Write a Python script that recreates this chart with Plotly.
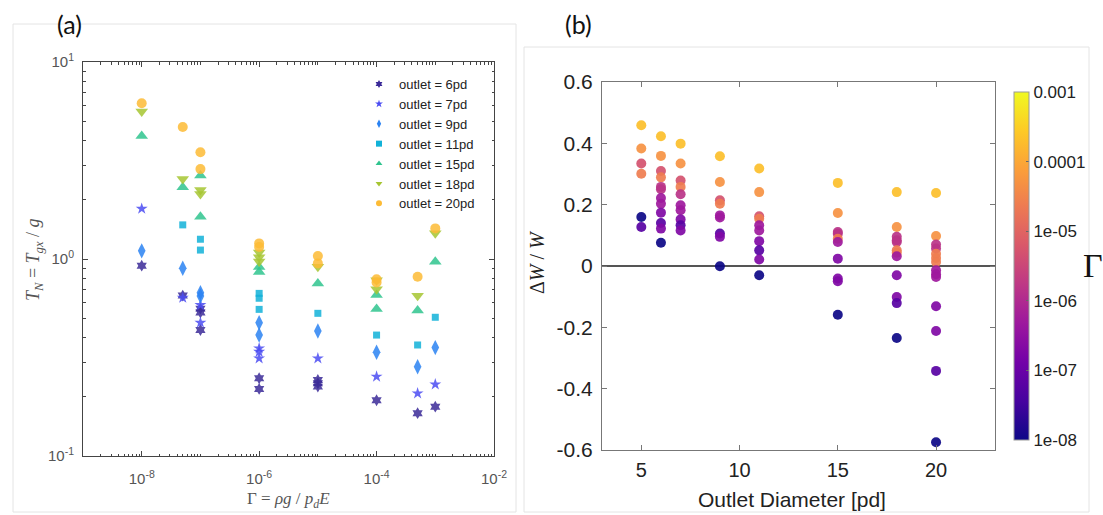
import numpy as np
import plotly.graph_objects as go

W, H = 1103, 515

# ---------------- Panel (a) data : Gamma vs T_N for each outlet size ----------------
series_names = ["outlet = 6pd", "outlet = 7pd", "outlet = 9pd", "outlet = 11pd",
                "outlet = 15pd", "outlet = 18pd", "outlet = 20pd"]
series_colors = ["#3b2a98", "#4b4cf2", "#2a82f2", "#12b2d8", "#2fc48e", "#a6c531", "#fdbb35"]
series_symbols = ["hexagram", "star", "diamond-tall", "square", "triangle-up", "triangle-down", "circle"]
series_sizes = [9, 9, 11, 7, 11, 11, 10]

g6 = [1e-8, 5e-8, 1e-7, 1e-7, 1e-7, 1e-6, 1e-6, 1e-5, 1e-5, 1e-5, 1e-4, 5e-4, 1e-3]
t6 = [0.925, 0.652, 0.560, 0.535, 0.436, 0.248, 0.219, 0.243, 0.234, 0.225, 0.192, 0.165, 0.178]
g7 = [1e-8, 5e-8, 1e-7, 1e-7, 1e-6, 1e-6, 1e-6, 1e-5, 1e-4, 5e-4, 1e-3]
t7 = [1.80, 0.636, 0.584, 0.475, 0.352, 0.338, 0.313, 0.313, 0.253, 0.208, 0.231]
g9 = [1e-8, 5e-8, 1e-7, 1e-7, 1e-6, 1e-6, 1e-5, 1e-4, 5e-4, 1e-3]
t9 = [1.10, 0.897, 0.675, 0.649, 0.475, 0.411, 0.431, 0.336, 0.284, 0.355]
g11 = [5e-8, 1e-7, 1e-7, 1e-6, 1e-6, 1e-6, 1e-5, 1e-4, 5e-4, 1e-3]
t11 = [1.49, 1.26, 1.11, 0.669, 0.632, 0.555, 0.530, 0.411, 0.366, 0.506]
g15 = [1e-8, 5e-8, 1e-7, 1e-7, 1e-6, 1e-6, 1e-5, 1e-4, 1e-4, 5e-4, 1e-3]
t15 = [4.21, 2.31, 2.65, 1.64, 0.91, 0.86, 0.752, 0.656, 0.557, 0.547, 0.969]
g18 = [1e-8, 5e-8, 1e-7, 1e-7, 1e-6, 1e-6, 1e-6, 1e-5, 1e-4, 1e-4, 5e-4, 1e-3]
t18 = [5.6, 2.55, 2.24, 2.14, 1.08, 1.02, 0.97, 0.914, 0.78, 0.702, 0.651, 1.35]
g20 = [1e-8, 5e-8, 1e-7, 1e-7, 1e-6, 1e-6, 1e-5, 1e-5, 1e-4, 1e-4, 5e-4, 1e-3]
t20 = [6.17, 4.68, 3.48, 2.86, 1.20, 1.15, 1.036, 0.95, 0.79, 0.76, 0.813, 1.43]

gammas_a = [g6, g7, g9, g11, g15, g18, g20]
tn_a = [t6, t7, t9, t11, t15, t18, t20]

# ---------------- Panel (b) data : outlet diameter vs dW/W, colored by Gamma ----------------
dia_b = ([5] * 6 + [6] * 12 + [7] * 10 + [9] * 9 + [11] * 10 +
         [15] * 10 + [18] * 12 + [20] * 14)
dw_b = [0.459, 0.383, 0.334, 0.301, 0.160, 0.127,
        0.423, 0.359, 0.310, 0.289, 0.258, 0.250, 0.222, 0.203, 0.174, 0.140, 0.122, 0.076,
        0.399, 0.334, 0.279, 0.258, 0.234, 0.198, 0.182, 0.152, 0.133, 0.116,
        0.358, 0.274, 0.214, 0.203, 0.165, 0.158, 0.106, 0.095, -0.001,
        0.318, 0.241, 0.162, 0.154, 0.133, 0.116, 0.081, 0.051, 0.021, -0.030,
        0.271, 0.173, 0.111, 0.105, 0.089, 0.078, 0.024, -0.041, -0.050, -0.159,
        0.241, 0.127, 0.095, 0.084, 0.078, 0.051, 0.043, 0.032, -0.030, -0.101, -0.121, -0.235,
        0.238, 0.098, 0.070, 0.057, 0.040, 0.026, 0.013, -0.014, -0.027, -0.036, -0.131, -0.212, -0.342, -0.575]
gam_b = [2e-4, 5e-5, 5e-6, 2.5e-5, 1e-8, 6e-8,
         2e-4, 5e-5, 5e-6, 2.5e-5, 1.5e-6, 1.5e-6, 5e-7, 5e-7, 2e-7, 6e-8, 2e-7, 1e-8,
         2e-4, 5e-5, 5e-6, 2.5e-5, 1.5e-6, 5e-7, 5e-7, 2e-7, 6e-8, 2e-7,
         2e-4, 5e-5, 5e-6, 2.5e-5, 5e-7, 5e-7, 6e-8, 2e-7, 1e-8,
         2e-4, 5e-5, 5e-6, 2.5e-5, 5e-7, 5e-7, 2e-7, 6e-8, 2e-7, 1e-8,
         2e-4, 5e-5, 1.5e-6, 1.5e-6, 2.5e-5, 5e-7, 2e-7, 2e-7, 2e-7, 1e-8,
         2e-4, 5e-5, 1.5e-6, 1.5e-6, 1.5e-6, 2.5e-5, 2.5e-5, 5e-7, 2e-7, 2e-7, 6e-8, 1e-8,
         2e-4, 5e-5, 1.5e-6, 1.5e-6, 2.5e-5, 2.5e-5, 2.5e-5, 5e-7, 5e-7, 5e-7, 2e-7, 2e-7, 6e-8, 1e-8]

cbar_vals = [-8, -7, -6, -5, -4, -3]
cbar_text = ["1e-08", "1e-07", "1e-06", "1e-05", "0.0001", "0.001"]

fig = go.Figure()

# panel (a) traces
for name, col, sym, sz, gx, ty in zip(series_names, series_colors, series_symbols,
                                       series_sizes, gammas_a, tn_a):
    fig.add_trace(go.Scatter(x=gx, y=ty, mode="markers", xaxis="x", yaxis="y",
                             marker=dict(color=col, symbol=sym, size=sz, opacity=0.85,
                                         line=dict(width=0)),
                             showlegend=False, hoverinfo="x+y", name=name))
# legend entries with small markers
for name, col, sym in zip(series_names, series_colors, series_symbols):
    fig.add_trace(go.Scatter(x=[None], y=[None], mode="markers", xaxis="x", yaxis="y",
                             marker=dict(color=col, symbol=sym, size=6, line=dict(width=0)),
                             name=name, showlegend=True))

# panel (b) trace
fig.add_trace(go.Scatter(
    x=dia_b, y=dw_b, mode="markers", xaxis="x2", yaxis="y2", showlegend=False,
    marker=dict(size=10, color=np.log10(gam_b), colorscale="Plasma", cmin=-8, cmax=-3,
                opacity=0.92, line=dict(width=0),
                colorbar=dict(x=1004 / W, xanchor="left", thickness=15,
                              len=(450 - 82) / H, lenmode="fraction",
                              y=1 - 266 / H, yanchor="middle",
                              tickvals=cbar_vals, ticktext=cbar_text,
                              ticks="inside", ticklen=3, tickcolor="#666",
                              outlinecolor="#999", outlinewidth=1,
                              tickfont=dict(family="Liberation Sans", size=17, color="#222"))),
))

major_x = [10.0 ** d for d in range(-8, -1, 2)]
major_x_text = ["10<sup>%d</sup>" % d for d in range(-8, -1, 2)]
minor_x = [m * 10.0 ** d for d in range(-9, -2) for m in range(1, 10)
           if not (m == 1 and d % 2 == 0)]
minor_y = [m * 10.0 ** d for d in range(-1, 1) for m in range(2, 10)]

ax_font = dict(family="Liberation Sans", size=15, color="#555")

fig.update_layout(
    width=W, height=H, margin=dict(l=0, r=0, t=0, b=0, autoexpand=False),
    paper_bgcolor="white", plot_bgcolor="white",
    font=dict(family="Liberation Sans"),
    xaxis=dict(domain=[83 / W, 494 / W], type="log", range=[-9, -2], automargin=False,
               tickmode="array", tickvals=major_x, ticktext=major_x_text,
               ticks="inside", ticklen=5, tickcolor="#444", showline=True, linecolor="#444",
               linewidth=1, mirror="ticks", showgrid=False, zeroline=False,
               tickfont=ax_font, ticklabelstandoff=9,
               minor=dict(tickmode="array", tickvals=minor_x, ticks="inside", ticklen=2.5,
                          tickcolor="#444", showgrid=False),
               anchor="y"),
    yaxis=dict(domain=[1 - 456 / H, 1 - 62 / H], type="log", range=[-1, 1], automargin=False,
               tickmode="array", tickvals=[0.1, 1, 10],
               ticktext=["10<sup>-1</sup>", "10<sup>0</sup>", "10<sup>1</sup>"],
               ticks="inside", ticklen=5, tickcolor="#444", showline=True, linecolor="#444",
               linewidth=1, mirror="ticks", showgrid=False, zeroline=False,
               tickfont=ax_font, ticklabelstandoff=5,
               minor=dict(tickmode="array", tickvals=minor_y, ticks="inside", ticklen=2.5,
                          tickcolor="#444", showgrid=False),
               anchor="x"),
    xaxis2=dict(domain=[602 / W, 995 / W], range=[3, 23], tickmode="array", automargin=False,
                tickvals=[5, 10, 15, 20], ticktext=["5", "10", "15", "20"],
                ticks="inside", ticklen=5, tickcolor="#777", showline=True, linecolor="#777",
                linewidth=1, mirror="ticks", showgrid=False, zeroline=False,
                tickfont=dict(family="Liberation Sans", size=20, color="#222"),
                ticklabelstandoff=2, anchor="y2"),
    yaxis2=dict(domain=[1 - 450 / H, 1 - 82 / H], range=[-0.6, 0.6], tickmode="array",
                automargin=False,
                tickvals=[-0.6, -0.4, -0.2, 0, 0.2, 0.4, 0.6],
                ticktext=["-0.6", "-0.4", "-0.2", "0", "0.2", "0.4", "0.6"],
                ticks="inside", ticklen=5, tickcolor="#777", showline=True, linecolor="#777",
                linewidth=1, mirror="ticks", showgrid=False, zeroline=False,
                tickfont=dict(family="Liberation Sans", size=21, color="#222"),
                ticklabelstandoff=4, anchor="x2"),
    legend=dict(x=359 / W, y=1 - 69 / H, xanchor="left", yanchor="top",
                bgcolor="rgba(0,0,0,0)", tracegroupgap=0,
                font=dict(family="Liberation Sans", size=13, color="#222")),
)

# zero reference line on panel (b)
fig.add_shape(type="line", xref="x2 domain", x0=0, x1=1, yref="y2", y0=0, y1=0,
              line=dict(color="#555", width=2), layer="below")

# faint panel borders
fig.add_shape(type="rect", xref="paper", yref="paper", x0=13 / W, x1=516 / W,
              y0=1 - 512 / H, y1=1 - 24 / H, line=dict(color="#e4e4e4", width=1), layer="below")
fig.add_shape(type="rect", xref="paper", yref="paper", x0=524 / W, x1=1089 / W,
              y0=1 - 512 / H, y1=1 - 47 / H, line=dict(color="#e4e4e4", width=1), layer="below")

serif = "Liberation Serif"
ann = [
    dict(text="(a)", x=69 / W, y=1 - 24 / H, font=dict(family="Lato", size=25, color="#111")),
    dict(text="(b)", x=578 / W, y=1 - 24 / H, font=dict(family="Lato", size=25, color="#111")),
    dict(text="<i>T<sub>N</sub></i> = <i>T<sub>gx</sub></i> / <i>g</i>", x=34 / W, y=1 - 260 / H,
         textangle=-90, font=dict(family=serif, size=18, color="#555")),
    dict(text="Γ = <i>ρg</i> / <i>p<sub>d</sub>E</i>", x=288 / W, y=1 - 500 / H,
         font=dict(family=serif, size=17, color="#555")),
    dict(text="Outlet Diameter [pd]", x=792 / W, y=1 - 499 / H,
         font=dict(family="Liberation Sans", size=21, color="#222")),
    dict(text="Δ<i>W</i> / <i>W</i>", x=537 / W, y=1 - 262 / H, textangle=-90,
         font=dict(family=serif, size=20, color="#222")),
    dict(text="Γ", x=1093 / W, y=1 - 265 / H, font=dict(family=serif, size=34, color="#111")),
]
for a in ann:
    fig.add_annotation(xref="paper", yref="paper", showarrow=False,
                       xanchor="center", yanchor="middle", **a)

fig.write_html("out.html")
